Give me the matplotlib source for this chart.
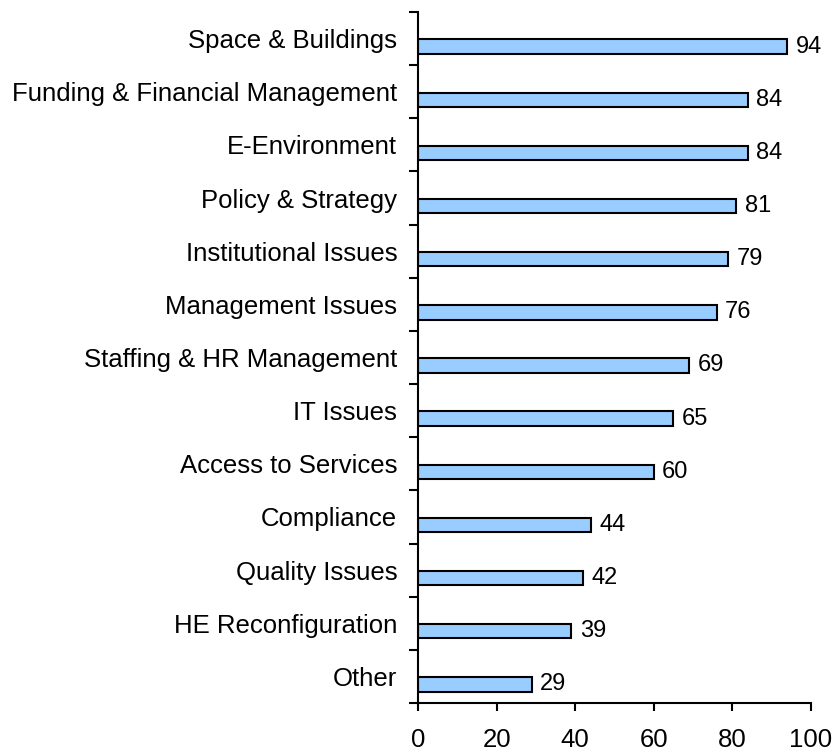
import numpy as np
from matplotlib import pyplot as plt

plt.rcParams['font.family'] = ['Liberation Sans', 'DejaVu Sans']

categories = ["Space & Buildings", "Funding & Financial Management", "E-Environment",
              "Policy & Strategy", "Institutional Issues", "Management Issues",
              "Staffing & HR Management", "IT Issues", "Access to Services",
              "Compliance", "Quality Issues", "HE Reconfiguration", "Other"]
values = [94, 84, 84, 81, 79, 76, 69, 65, 60, 44, 42, 39, 29]
xticks = [0, 20, 40, 60, 80, 100]

fig = plt.figure(figsize=(8.34, 7.51), dpi=100)
ax = fig.add_axes([0.5012, 0.0639, 0.4712, 0.9201])

pos = np.arange(len(categories))
ax.barh(pos + 0.15, values, height=0.27, color='#99CCFF', edgecolor='black', linewidth=1.5)

for p, v in zip(pos, values):
    ax.annotate(str(v), (v, p + 0.15), xytext=(6, 0), textcoords='offset points',
                va='center', ha='left', fontsize=17)

ax.set_ylim(len(categories) - 0.5, -0.5)
ax.set_xlim(0, 100)

# boundary ticks without labels, category labels at slot centres
ax.set_yticks(np.arange(len(categories) + 1) - 0.5)
ax.set_yticklabels([])
ax.set_yticks(pos, minor=True)
ax.set_yticklabels(categories, minor=True, fontsize=18.5)
ax.tick_params(axis='y', which='minor', length=0, pad=15)
ax.tick_params(axis='y', which='major', length=6.5, width=1.5, direction='out')

ax.set_xticks(xticks)
ax.set_xticklabels([str(t) for t in xticks], fontsize=18.5)
ax.tick_params(axis='x', length=6, width=1.5, direction='out', pad=12)

for s in ['top', 'right']:
    ax.spines[s].set_visible(False)
for s in ['left', 'bottom']:
    ax.spines[s].set_linewidth(1.5)

fig.savefig('out.png', dpi=100)
